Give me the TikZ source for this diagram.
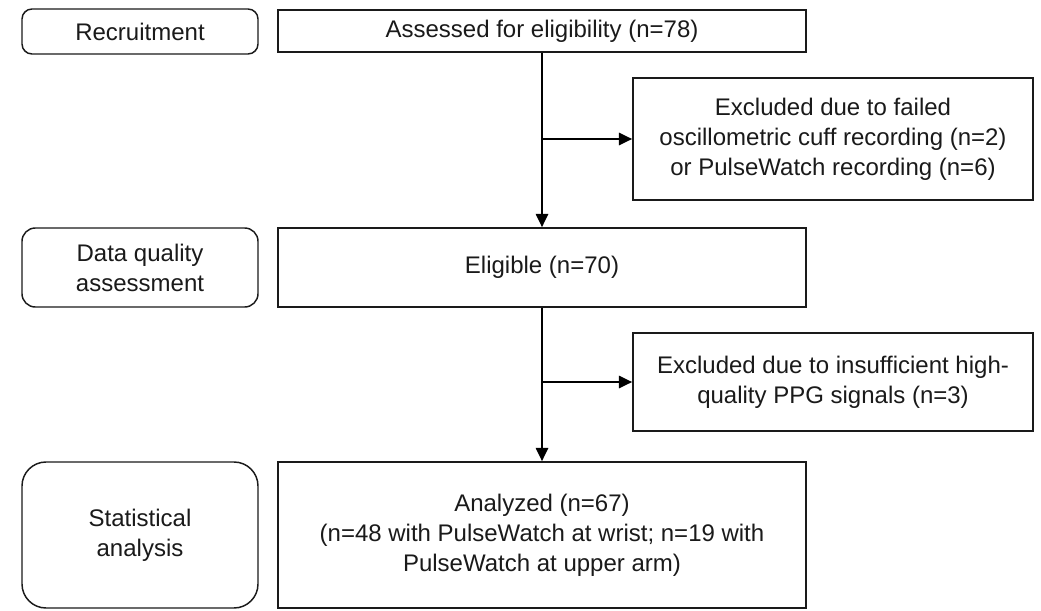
\documentclass[tikz,border=0pt]{standalone}
\usepackage{fontspec}
\setmainfont{Liberation Sans}
\usetikzlibrary{arrows.meta}
\definecolor{ink}{HTML}{1A1A1A}
\begin{document}
\begin{tikzpicture}[x=0.75pt,y=-0.75pt,
  every node/.style={font=\fontsize{18}{22.5}\selectfont, text=ink, align=center, inner sep=0pt},
  box/.style={draw=ink, line width=1.1pt, fill=white},
  stage/.style={box},
  flowarrow/.style={draw=black, line width=2pt, -{Triangle[length=10pt,width=9pt]}}
]
\useasboundingbox (0,0) rectangle (1041,610);
% left stage boxes
\node[stage, rounded corners=7.5pt, minimum width=177pt, minimum height=33.75pt] (rec) at (140,31.5) {Recruitment};
\node[stage, rounded corners=10pt, minimum width=177pt, minimum height=59.25pt] (dqa) at (140,267.5) {Data quality\\assessment};
\node[stage, rounded corners=18pt, minimum width=177pt, minimum height=109.5pt] (sta) at (140,535) {Statistical\\analysis};
% main flow
\node[box, minimum width=396pt, minimum height=31.5pt] (ass) at (542,31) {Assessed for eligibility (n=78)};
\node[box, minimum width=300pt, minimum height=91.5pt] (exa) at (833,139) {Excluded due to failed\\oscillometric cuff recording (n=2)\\or PulseWatch recording (n=6)};
\node[box, minimum width=396pt, minimum height=59.25pt] (eli) at (542,267.5) {Eligible (n=70)};
\node[box, minimum width=300pt, minimum height=73.5pt] (exb) at (833,382) {Excluded due to insufficient high-\\quality PPG signals (n=3)};
\node[box, minimum width=396pt, minimum height=109.5pt] (ana) at (542,535) {Analyzed (n=67)\\(n=48 with PulseWatch at wrist; n=19 with\\PulseWatch at upper arm)};
% connectors
\draw[flowarrow] (ass.south) -- (eli.north);
\draw[flowarrow] (ass.south |- exa.west) -- (exa.west);
\draw[flowarrow] (eli.south) -- (ana.north);
\draw[flowarrow] (eli.south |- exb.west) -- (exb.west);
\end{tikzpicture}
\end{document}
